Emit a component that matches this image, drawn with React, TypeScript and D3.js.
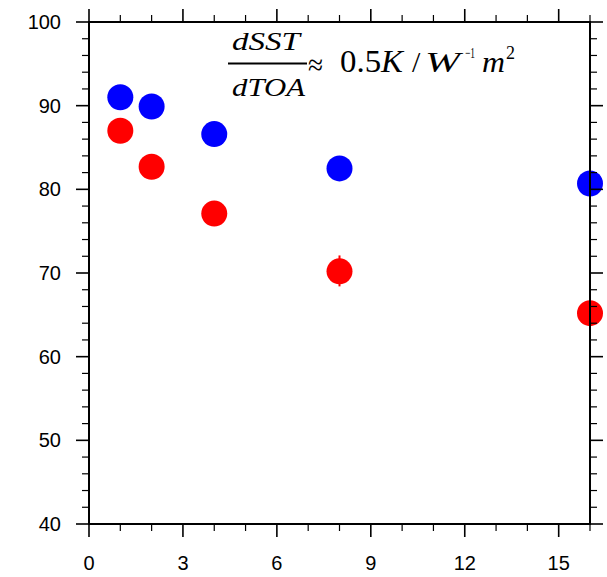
import React from "react";
import * as d3 from "d3";

const xValues = [1, 2, 4, 8, 16];
const blueValues = [91.0, 89.9, 86.6, 82.5, 80.7];
const redValues = [87.0, 82.7, 77.1, 70.2, 65.2];
const redErrLow: (number | null)[] = [null, null, null, 68.4, 62.5];
const redErrHigh: (number | null)[] = [null, null, null, 72.1, 68.0];
const xMajorTicks = [0, 3, 6, 9, 12, 15];
const xMinorTicks = d3.range(0, 17, 1);
const yMajorTicks = [40, 50, 60, 70, 80, 90, 100];
const yMinorTicks = d3.range(40, 101, 2);

const W = 607;
const H = 577;
const left = 89, right = 590, top = 22, bottom = 524;

export default function App() {
  const x = d3.scaleLinear().domain([0, 16]).range([left, right]);
  const y = d3.scaleLinear().domain([40, 100]).range([bottom, top]);
  const font = "'Liberation Sans', Arial, Helvetica, sans-serif";
  const serif = "'Liberation Serif', 'Times New Roman', serif";
  const majLen = 13, minLen = 7;

  return (
    <svg width={W} height={H} style={{ position: "absolute", left: 0, top: 0, display: "block", background: "#fff" }}>
      {/* points */}
      {xValues.map((xv, i) => (
        <circle key={"b" + i} cx={x(xv)} cy={y(blueValues[i])} r={13} fill="#0000ff" />
      ))}
      {xValues.map((xv, i) => (
        <circle key={"r" + i} cx={x(xv)} cy={y(redValues[i])} r={13} fill="#ff0000" />
      ))}
      {/* error bars */}
      {xValues.map((xv, i) =>
        redErrLow[i] != null && redErrHigh[i] != null ? (
          <line key={"e" + i} x1={x(xv)} x2={x(xv)} y1={y(redErrLow[i] as number)} y2={y(redErrHigh[i] as number)}
            stroke="#ff0000" strokeWidth={2} />
        ) : null
      )}

      {/* frame */}
      <rect x={left} y={top} width={right - left} height={bottom - top} fill="none" stroke="#000" strokeWidth={2} />

      {/* x ticks bottom and top */}
      {xMinorTicks.map((t) => {
        const isMaj = xMajorTicks.includes(t);
        const len = isMaj ? majLen : minLen;
        return (
          <g key={"xt" + t} stroke="#000" strokeWidth={isMaj ? 1.6 : 1.2}>
            <line x1={x(t)} x2={x(t)} y1={bottom} y2={bottom + len} />
            <line x1={x(t)} x2={x(t)} y1={top} y2={top - len} />
          </g>
        );
      })}
      {/* y ticks left and right */}
      {yMinorTicks.map((t) => {
        const isMaj = yMajorTicks.includes(t);
        const len = isMaj ? majLen : minLen;
        return (
          <g key={"yt" + t} stroke="#000" strokeWidth={isMaj ? 1.6 : 1.2}>
            <line x1={left} x2={left - len} y1={y(t)} y2={y(t)} />
            <line x1={right} x2={right + len} y1={y(t)} y2={y(t)} />
          </g>
        );
      })}

      {/* tick labels */}
      {xMajorTicks.map((t) => (
        <text key={"xl" + t} x={x(t)} y={570} textAnchor="middle" fontFamily={font} fontSize={20} fill="#000">
          {t}
        </text>
      ))}
      {yMajorTicks.map((t) => (
        <text key={"yl" + t} x={61} y={y(t) + 7} textAnchor="end" fontFamily={font} fontSize={20} fill="#000">
          {t}
        </text>
      ))}

      {/* annotation */}
      <g fontFamily={serif} fill="#000">
        <text x={232} y={50} fontSize={26} fontStyle="italic" textLength={68} lengthAdjust="spacingAndGlyphs">dSST</text>
        <line x1={228} x2={307} y1={63.5} y2={63.5} stroke="#000" strokeWidth={2} />
        <text x={232} y={96} fontSize={26} fontStyle="italic" textLength={73} lengthAdjust="spacingAndGlyphs">dTOA</text>
        <text x={308} y={75} fontSize={30} textLength={15} lengthAdjust="spacingAndGlyphs">≈</text>
        <text x={340} y={72} fontSize={31} textLength={63} lengthAdjust="spacingAndGlyphs">
          0.5<tspan fontStyle="italic">K</tspan>
        </text>
        <text x={412} y={72} fontSize={30}>/</text>
        <text x={425} y={72} fontSize={30} fontStyle="italic" textLength={35} lengthAdjust="spacingAndGlyphs">W</text>
        <text x={465} y={58} fontSize={15} textLength={10} lengthAdjust="spacingAndGlyphs">−1</text>
        <text x={482} y={72} fontSize={30} fontStyle="italic" textLength={23} lengthAdjust="spacingAndGlyphs">m</text>
        <text x={506} y={59} fontSize={18}>2</text>
      </g>
    </svg>
  );
}
